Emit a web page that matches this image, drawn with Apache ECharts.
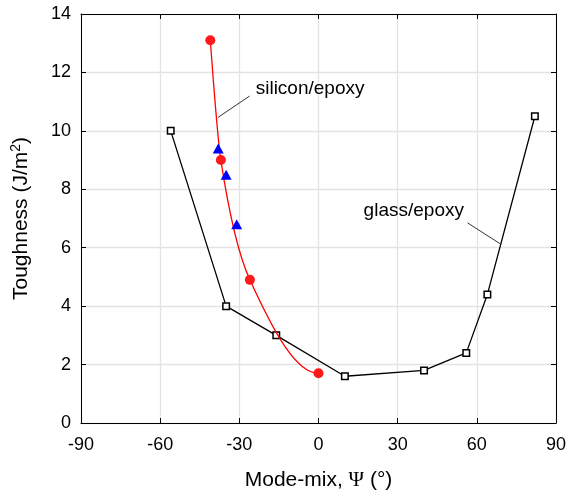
<!DOCTYPE html>
<html>
<head>
<meta charset="utf-8">
<script src="https://cdn.jsdelivr.net/npm/echarts@6/dist/echarts.min.js"></script>
<style>
  html, body { margin: 0; padding: 0; background: #fff; }
  #chart { width: 569px; height: 496px; }
</style>
</head>
<body>
<div id="chart"></div>
<script>
  // glass/epoxy (black squares)
  const glassX = [-56, -35, -16, 10, 40, 56, 64, 82];
  const glassY = [10, 4.0, 3.0, 1.6, 1.8, 2.4, 4.4, 10.5];
  // silicon/epoxy (red circles + shape-preserving curve)
  const siliconX = [-41, -37, -26, 0];
  const siliconY = [13.1, 9.0, 4.9, 1.7];
  // blue triangles
  const triX = [-38, -35, -31];
  const triY = [9.4, 8.5, 6.8];

  // labels and their leader lines
  const siliconLabel = { text: 'silicon/epoxy', at: [-23.8, 11.45], line: [[-26.1, 11.19], [-38.1, 10.46]] };
  const glassLabel = { text: 'glass/epoxy', at: [17.1, 7.28], line: [[56.5, 6.85], [69.1, 6.12]] };

  const zip = (xs, ys) => xs.map((x, i) => [x, ys[i]]);
  const font = 'Liberation Sans, Arial, sans-serif';

  // pchip slopes (shape preserving cubic)
  function pchipSlopes(xs, ys) {
    const n = xs.length, h = [], d = [];
    for (let i = 0; i < n - 1; i++) {
      h.push(xs[i + 1] - xs[i]);
      d.push((ys[i + 1] - ys[i]) / h[i]);
    }
    const m = new Array(n).fill(0);
    for (let i = 1; i < n - 1; i++) {
      if (d[i - 1] * d[i] > 0) {
        const w1 = 2 * h[i] + h[i - 1], w2 = h[i] + 2 * h[i - 1];
        m[i] = (w1 + w2) / (w1 / d[i - 1] + w2 / d[i]);
      }
    }
    const end = (h0, h1, d0, d1) => {
      let s = ((2 * h0 + h1) * d0 - h0 * d1) / (h0 + h1);
      if (Math.sign(s) !== Math.sign(d0)) s = 0;
      else if (Math.sign(d0) !== Math.sign(d1) && Math.abs(s) > Math.abs(3 * d0)) s = 3 * d0;
      return s;
    };
    m[0] = end(h[0], h[1], d[0], d[1]);
    m[n - 1] = end(h[n - 2], h[n - 3], d[n - 2], d[n - 3]);
    return m;
  }

  let chart = echarts.init(document.getElementById('chart'));

  const axisCommon = {
    axisLine: { show: true, onZero: false, lineStyle: { color: '#000', width: 1 } },
    axisTick: { show: true, inside: true, length: 5, lineStyle: { color: '#000', width: 1 } },
    axisLabel: { color: '#000', fontSize: 18, fontFamily: font },
    splitLine: { show: false }
  };

  function annotation(a) {
    return {
      markLine: {
        silent: true,
        symbol: 'none',
        label: { show: false },
        lineStyle: { color: '#333', width: 1, type: 'solid' },
        data: [[{ coord: a.line[0] }, { coord: a.line[1] }]]
      },
      markPoint: {
        silent: true,
        symbol: 'circle',
        symbolSize: 0,
        label: {
          show: true,
          position: 'right',
          distance: 0,
          formatter: a.text,
          color: '#000',
          fontSize: 19,
          fontFamily: font
        },
        data: [{ coord: a.at }]
      }
    };
  }

  let option = {
    animation: false,
    backgroundColor: '#fff',
    grid: { left: 81, right: 12, top: 14, bottom: 70 },
    xAxis: [
      Object.assign({}, axisCommon, {
        type: 'value', min: -90, max: 90, interval: 30,
        axisLabel: Object.assign({}, axisCommon.axisLabel, { margin: 13 }),
        splitLine: { show: true, lineStyle: { color: '#e3e3e3', width: 1.3 } },
        name: '{a|Mode-mix, }{b|Ψ}{a| (°)}',
        nameLocation: 'middle',
        nameGap: 47,
        nameTextStyle: {
          rich: {
            a: { fontSize: 21, fontFamily: font, color: '#000' },
            b: { fontSize: 21, fontFamily: 'Liberation Serif, Times New Roman, serif', color: '#000' }
          }
        }
      }),
      Object.assign({}, axisCommon, {
        type: 'value', min: -90, max: 90, interval: 30, position: 'top',
        axisLabel: { show: false }
      })
    ],
    yAxis: [
      Object.assign({}, axisCommon, {
        type: 'value', min: 0, max: 14, interval: 2,
        axisLabel: Object.assign({}, axisCommon.axisLabel, { margin: 10 }),
        splitLine: { show: true, lineStyle: { color: '#e3e3e3', width: 1.3 } },
        name: '{a|Toughness (J/m}{s|2}{a|)}',
        nameLocation: 'middle',
        nameGap: 48,
        nameTextStyle: {
          rich: {
            a: { fontSize: 21, fontFamily: font, color: '#000' },
            s: { fontSize: 14, fontFamily: font, color: '#000', verticalAlign: 'top', padding: [0, 0, 10, 0] }
          }
        }
      }),
      Object.assign({}, axisCommon, {
        type: 'value', min: 0, max: 14, interval: 2, position: 'right',
        axisLabel: { show: false }
      })
    ],
    series: [
      Object.assign({
        name: 'glass/epoxy',
        type: 'line',
        data: zip(glassX, glassY),
        symbol: 'rect',
        symbolSize: 6.5,
        itemStyle: { color: '#fff', borderColor: '#000', borderWidth: 1.5 },
        lineStyle: { color: '#000', width: 1.3 },
        z: 3
      }, annotation(glassLabel)),
      Object.assign({
        name: 'silicon/epoxy curve',
        type: 'custom',
        data: zip(siliconX, siliconY),
        encode: { x: 0, y: 1 },
        renderItem: function (params, api) {
          if (params.dataIndex !== 0) return;
          const m = pchipSlopes(siliconX, siliconY);
          const children = [];
          for (let i = 0; i < siliconX.length - 1; i++) {
            const h = siliconX[i + 1] - siliconX[i];
            const p0 = api.coord([siliconX[i], siliconY[i]]);
            const c1 = api.coord([siliconX[i] + h / 3, siliconY[i] + m[i] * h / 3]);
            const c2 = api.coord([siliconX[i + 1] - h / 3, siliconY[i + 1] - m[i + 1] * h / 3]);
            const p1 = api.coord([siliconX[i + 1], siliconY[i + 1]]);
            children.push({
              type: 'bezierCurve',
              shape: { x1: p0[0], y1: p0[1], cpx1: c1[0], cpy1: c1[1], cpx2: c2[0], cpy2: c2[1], x2: p1[0], y2: p1[1] },
              style: { stroke: '#ff0000', lineWidth: 1.3, fill: null }
            });
          }
          return { type: 'group', children: children };
        },
        z: 4
      }, annotation(siliconLabel)),
      {
        name: 'silicon/epoxy',
        type: 'scatter',
        data: zip(siliconX, siliconY),
        symbol: 'circle',
        symbolSize: 10,
        itemStyle: { color: '#ff1a1a', opacity: 1 },
        z: 5
      },
      {
        name: 'triangles',
        type: 'scatter',
        data: zip(triX, triY),
        symbol: 'triangle',
        symbolSize: [11, 10],
        itemStyle: { color: '#0000ff', opacity: 1 },
        z: 6
      }
    ]
  };
  chart.setOption(option);
</script>
</body>
</html>
